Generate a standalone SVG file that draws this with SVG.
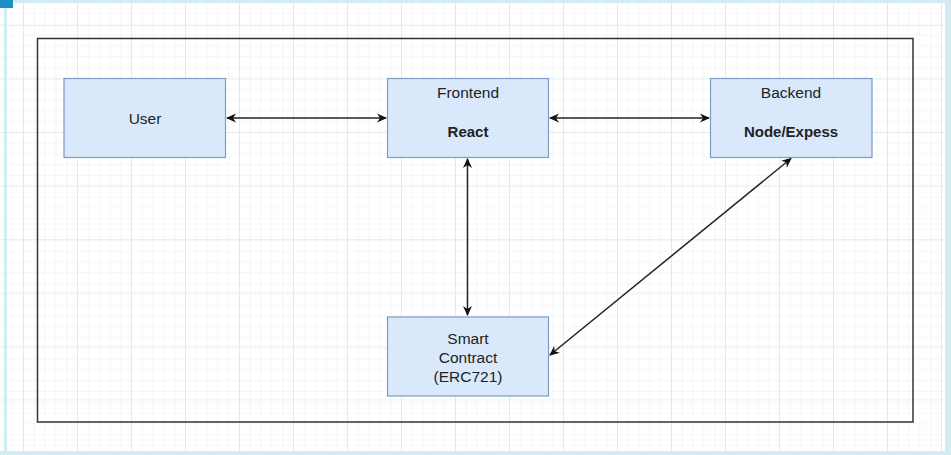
<svg xmlns="http://www.w3.org/2000/svg" width="951" height="455" viewBox="0 0 951 455">
<defs>
<pattern id="minor" x="2.4" y="3.2" width="10.8" height="10.8" patternUnits="userSpaceOnUse">
<path d="M10.8 0V10.8M0 10.8H10.8" fill="none" stroke="#ecf0f2" stroke-width="1"/>
</pattern>
<pattern id="major" x="23" y="25" width="54" height="53.5" patternUnits="userSpaceOnUse">
<path d="M0 0V53.5M0 0H54" fill="none" stroke="#d9dfe3" stroke-width="1.2"/>
</pattern>
<marker id="ah" viewBox="0 0 10 10" refX="9" refY="5" markerWidth="10" markerHeight="10" orient="auto-start-reverse" markerUnits="userSpaceOnUse">
<path d="M0 0.5L10 5L0 9.5L3 5Z" fill="#111"/>
</marker>
<style>
.node rect{fill:#dae8fc;stroke:#7d9cc4;stroke-width:1.2}
text{font-family:"Liberation Sans",Arial,sans-serif;font-size:15.5px;fill:#222;text-anchor:middle}
.b{font-weight:bold;font-size:15px}
.conn line{stroke:#222;stroke-width:1.5;fill:none;marker-start:url(#ah);marker-end:url(#ah)}
</style>
</defs>
<rect width="951" height="455" fill="#ffffff"/>
<rect width="951" height="455" fill="url(#minor)"/>
<rect width="951" height="455" fill="url(#major)"/>
<rect x="0" y="0" width="951" height="3" fill="#d3ecf3"/>
<rect x="4" y="0" width="3" height="455" fill="#d3ecf3"/>
<rect x="945" y="0" width="6" height="455" fill="#d3ecf3"/>
<rect x="0" y="451" width="951" height="4" fill="#d3ecf3"/>
<rect x="0" y="0" width="13" height="8" fill="#1d8fc4"/>
<rect id="frame" x="37.5" y="38.5" width="875.5" height="383.5" fill="none" stroke="#333" stroke-width="1.5"/>
<g id="connectors" class="conn">
<line x1="227" y1="118" x2="386" y2="118"/>
<line x1="550" y1="118" x2="709" y2="118"/>
<line x1="467.5" y1="159" x2="467.5" y2="315"/>
<line x1="791" y1="158.5" x2="550" y2="355"/>
</g>
<g id="user" class="node">
<rect x="64" y="78.5" width="161.5" height="79"/>
<text x="145" y="123.5">User</text>
</g>
<g id="frontend" class="node">
<rect x="387.5" y="78.5" width="161" height="79"/>
<text x="468" y="97.5">Frontend</text>
<text x="468" y="136.5" class="b">React</text>
</g>
<g id="backend" class="node">
<rect x="710.5" y="78.5" width="161.5" height="79"/>
<text x="791" y="97.5">Backend</text>
<text x="791" y="136.5" class="b">Node/Expess</text>
</g>
<g id="smart-contract" class="node">
<rect x="387.5" y="317" width="161" height="79"/>
<text x="468" y="343.5">Smart</text>
<text x="468" y="362.5">Contract</text>
<text x="468" y="381.5">(ERC721)</text>
</g>
</svg>
